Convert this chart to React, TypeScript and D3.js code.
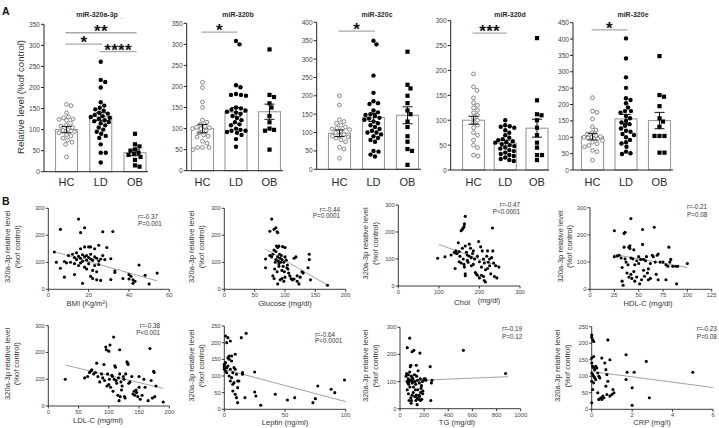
import React from "react";
import * as d3 from "d3";

const FONT = "'Liberation Sans', Arial, Helvetica, sans-serif";

// ---------------- Panel A data ----------------
const groups = ["HC", "LD", "OB"];
const mirTitles = ["miR-320a-3p", "miR-320b", "miR-320c", "miR-320d", "miR-320e"];
const mirYMax = [350, 350, 400, 300, 450];

const a320a_HC = [160, 157, 140, 130, 128, 125, 124, 122, 115, 110, 108, 105, 100, 98, 95, 92, 88, 85, 80, 75, 70, 65, 35];
const a320a_LD = [261, 218, 213, 200, 165, 157, 152, 148, 145, 140, 138, 135, 132, 130, 128, 125, 122, 120, 118, 115, 110, 105, 100, 95, 90, 85, 80, 65, 45, 45, 22];
const a320a_OB = [90, 65, 60, 53, 50, 45, 42, 40, 35, 28, 15, 12];

const b320_HC = [210, 197, 163, 150, 120, 115, 110, 105, 103, 102, 100, 100, 95, 90, 85, 82, 80, 70, 65, 55, 55, 55, 50];
const b320_LD = [308, 300, 203, 198, 182, 180, 180, 178, 150, 148, 145, 143, 140, 138, 135, 130, 125, 120, 115, 110, 108, 100, 97, 95, 95, 92, 90, 85, 75, 57];
const b320_OB = [288, 180, 175, 160, 150, 130, 115, 100, 97, 95, 50];

const c320_HC = [200, 175, 135, 130, 125, 120, 115, 112, 110, 108, 105, 100, 95, 92, 90, 88, 85, 80, 75, 60, 55, 30];
const c320_LD = [350, 340, 255, 208, 185, 180, 178, 160, 155, 150, 148, 145, 140, 138, 135, 130, 125, 120, 115, 110, 105, 100, 100, 95, 90, 85, 80, 75, 50, 48, 40, 35];
const c320_OB = [320, 230, 220, 200, 180, 160, 150, 130, 115, 90, 75, 55, 50, 12];

const d320_HC = [193, 167, 160, 145, 135, 130, 125, 120, 115, 110, 105, 100, 95, 90, 85, 75, 70, 60, 50, 45, 30, 28];
const d320_LD = [100, 90, 88, 87, 85, 80, 75, 70, 65, 62, 60, 58, 56, 55, 52, 50, 48, 45, 43, 40, 38, 35, 32, 30, 28, 25, 22, 20, 18];
const d320_OB = [265, 140, 112, 110, 100, 85, 70, 55, 45, 30, 30, 20];

const e320_HC = [221, 180, 176, 156, 132, 122, 114, 110, 105, 102, 100, 100, 98, 95, 90, 85, 80, 75, 71, 60, 56, 30];
const e320_LD = [402, 341, 283, 251, 219, 214, 204, 191, 180, 180, 175, 165, 158, 150, 145, 140, 135, 127, 120, 117, 110, 107, 100, 92, 85, 81, 71, 56, 51, 49];
const e320_OB = [348, 229, 224, 195, 158, 148, 132, 104, 104, 104, 53, 53];

const mirMeans = [[100, 131, 45], [100, 139, 140], [98, 141, 147], [100, 54, 84], [102, 156, 151]];
const mirSEM = [[7.5, 9, 7], [10, 11, 18], [9, 11, 23], [8, 6, 18], [10, 14, 25]];

// significance brackets: [from group, to group, level, label]
const sigA320a: [number, number, number, string][] = [[0, 2, 330, "**"], [0, 1, 303, "*"], [1, 2, 285, "****"]];
const sigB320: [number, number, number, string][] = [[0, 1, 329, "*"]];
const sigC320: [number, number, number, string][] = [[0, 1, 376, "*"]];
const sigD320: [number, number, number, string][] = [[0, 1, 275, "***"]];
const sigE320: [number, number, number, string][] = [[0, 1, 428, "*"]];

const mirData = [
  [a320a_HC, a320a_LD, a320a_OB],
  [b320_HC, b320_LD, b320_OB],
  [c320_HC, c320_LD, c320_OB],
  [d320_HC, d320_LD, d320_OB],
  [e320_HC, e320_LD, e320_OB],
];
const mirSig = [sigA320a, sigB320, sigC320, sigD320, sigE320];

// layout (pixels) for each bar panel
const aLayout = [
  { axisX: 44, axisEnd: 148, c0: 66.5, c2: 135, top: 24.3, bottom: 171.7, titleX: 97 },
  { axisX: 186.7, axisEnd: 283, c0: 202.5, c2: 269.5, top: 23.3, bottom: 170.7, titleX: 238 },
  { axisX: 316.7, axisEnd: 421, c0: 339.5, c2: 407.5, top: 22.3, bottom: 169.3, titleX: 377 },
  { axisX: 450.7, axisEnd: 549, c0: 473.5, c2: 537, top: 20.7, bottom: 170, titleX: 510 },
  { axisX: 573, axisEnd: 673, c0: 592.5, c2: 659.5, top: 22.7, bottom: 170, titleX: 633 },
];

// ---------------- Panel B data ----------------
const bmiPts = [[15,260],[6,222],[18,228],[16,210],[27,213],[32,214],[18,157],[20,157],[21,157],[25,163],[29,155],[23,150],[16,150],
  [3,138],[4,100],[6,78],[8,103],[9,98],[10,125],[11,100],[12,130],[13,118],[13,95],[14,135],[14,110],[15,122],[15,88],[16,115],[16,98],[17,128],[17,104],[18,120],[18,82],[19,125],[19,108],[19,75],[20,118],[20,95],[21,112],[21,130],[22,108],[22,70],[23,120],[23,88],[24,115],[24,65],[25,105],[25,92],[26,112],[27,125],[28,110],[31,113],[33,68],[33,62],
  [8,45],[13,55],[17,22],[21,48],[22,40],[24,35],[26,33],[31,36],[37,40],[40,55],[41,48],[42,35],[42,22],[43,30],[45,90],[48,52],[50,20],[54,60],[40,38]];
const bmiFit = [[4, 137], [54, 31]];

const glucosePts = [[78,260],[75,215],[82,222],[85,228],[88,210],[87,213],[68,112],[68,80],[75,125],[78,120],[80,130],[82,145],[84,100],[85,110],[85,140],[86,160],[88,155],[88,120],[89,105],[90,160],[90,95],[91,130],[92,115],[93,100],[94,125],[95,110],[96,158],[97,85],[98,100],[100,155],[100,120],[102,108],[103,80],[105,75],[106,60],[110,40],[112,35],[115,115],[118,120],[120,50],[120,30],[123,20],[128,65],[130,60],[138,80],[140,130],[140,110],[142,35],[80,50],[82,40],[88,20],[92,35],[95,40],[98,30],[100,45],[104,90],[108,50],[170,15],[83,75],[87,65],[90,85],[95,70],[99,65],[115,38],[125,45]];
const glucoseFit = [[68, 148], [170, 16]];

const cholPts = [[97,103],[115,108],[130,115],[138,125],[140,122],[142,130],[145,120],[148,160],[150,128],[152,110],[155,205],[158,210],[160,215],[162,220],[163,230],[165,258],[165,148],[158,140],[160,100],[162,80],[163,70],[165,45],[165,38],[168,125],[170,115],[170,95],[172,88],[175,110],[175,155],[178,140],[180,105],[180,75],[183,120],[185,80],[188,100],[190,50],[192,45],[195,110],[198,165],[200,90],[200,30],[203,145],[205,70],[205,40],[207,130],[210,100],[210,35],[212,85],[212,20],[215,60],[215,15],[218,110],[220,65],[220,130],[222,88],[225,75],[228,45],[230,105],[232,215],[233,130],[235,85],[237,35],[240,75],[243,30],[248,70],[150,90],[155,85],[140,65],[185,130],[195,40],[225,100]];
const cholFit = [[100, 154], [250, 72]];

const hdlPts = [[25,215],[25,120],[28,122],[30,125],[32,115],[33,80],[33,30],[34,15],[35,205],[35,155],[36,112],[36,210],[37,100],[38,60],[39,90],[40,45],[40,155],[41,160],[41,150],[42,260],[42,115],[42,55],[43,40],[44,112],[45,145],[45,65],[46,90],[46,30],[48,105],[48,45],[50,120],[50,95],[51,20],[52,110],[53,35],[54,220],[54,165],[55,110],[55,70],[56,48],[57,105],[58,120],[59,60],[60,75],[60,35],[62,95],[62,40],[64,125],[65,120],[66,228],[67,100],[68,55],[69,125],[70,130],[70,35],[72,100],[75,100],[78,90],[78,35],[80,85],[81,155],[82,100],[83,110],[85,85],[88,85],[89,20],[90,85],[100,95]];
const hdlFit = [[25, 128], [100, 80]];

const ldlPts = [[28,100],[60,105],[65,110],[68,125],[70,130],[72,135],[75,120],[78,125],[80,160],[82,110],[85,90],[88,120],[90,105],[92,155],[93,95],[95,220],[96,210],[97,75],[98,120],[100,205],[100,80],[101,100],[102,228],[103,70],[105,115],[106,110],[107,55],[108,258],[109,100],[110,150],[111,145],[112,95],[113,85],[115,40],[116,105],[117,20],[118,210],[118,120],[119,35],[120,90],[121,60],[122,75],[124,110],[125,100],[126,35],[127,30],[128,120],[130,165],[131,160],[132,155],[133,85],[135,90],[138,110],[140,45],[142,55],[143,40],[145,60],[146,50],[148,35],[150,70],[150,110],[152,25],[155,40],[158,100],[160,70],[165,20],[168,215],[170,95],[172,30],[174,130],[175,125],[176,35],[178,75],[190,15]];
const ldlFit = [[28, 153], [190, 66]];

const leptinPts = [[0,120],[0,135],[0,125],[0,130],[1,220],[1,140],[1,115],[2,125],[2,110],[3,215],[3,155],[3,130],[4,150],[4,100],[5,205],[5,120],[5,85],[6,160],[6,145],[6,95],[7,75],[7,110],[8,125],[8,80],[9,165],[9,45],[9,120],[10,35],[10,105],[11,85],[11,65],[11,20],[12,85],[14,215],[15,110],[15,105],[18,228],[17,35],[25,112],[25,52],[26,40],[30,12],[42,45],[52,28],[58,35],[73,20],[75,32],[77,70],[88,60],[91,50],[99,88],[2,200],[4,160],[7,55]];
const leptinFit = [[0, 120], [100, 23]];

const tgPts = [[50,120],[55,130],[60,225],[60,100],[65,95],[68,110],[70,125],[72,90],[75,105],[78,100],[80,260],[80,135],[82,80],[85,155],[88,105],[90,160],[90,40],[92,20],[95,30],[95,120],[100,115],[100,210],[102,95],[105,100],[108,110],[110,60],[112,80],[115,215],[120,125],[122,45],[125,100],[128,70],[130,90],[132,30],[135,160],[135,50],[138,120],[140,40],[142,15],[145,105],[148,70],[150,140],[155,35],[158,50],[160,95],[162,45],[165,205],[168,110],[170,30],[172,60],[175,75],[178,85],[180,35],[185,100],[188,55],[190,65],[195,105],[200,110],[210,110],[215,105],[250,155],[255,30],[260,95],[265,105],[525,215],[875,130],[60,70],[70,55],[75,30],[100,50]];
const tgFit = [[28, 102], [898, 118]];

const crpPts = [[0,225],[0,218],[0.05,210],[0.1,205],[0.1,160],[0,155],[0,140],[0.05,130],[0.1,125],[0.15,120],[0.2,130],[0.25,125],[0,110],[0.05,105],[0.1,100],[0.15,95],[0.2,90],[0,85],[0.1,80],[0,20],[0.05,60],[0.3,110],[0.35,100],[0.4,95],[0.45,35],[0.5,30],[0.5,155],[0.55,40],[0.6,35],[0.65,140],[0.7,120],[0.7,70],[0.75,105],[0.75,45],[0.8,210],[0.8,85],[0.9,150],[0.9,40],[1.0,45],[1.05,60],[1.1,50],[1.7,165],[1.7,90],[1.75,112],[2.0,65],[2.0,12],[2.1,112],[2.7,145],[2.85,35],[5.0,112],[0.3,50],[0.35,30]];
const crpFit = [[0.05, 114], [6, 66]];

const scatterLabels = ["BMI (Kg/m²)", "Glucose (mg/dl)", "Chol", "HDL-C (mg/dl)", "LDL-C (mg/ml)", "Leptin (ng/ml)", "TG (mg/dl)", "CRP (mg/l)"];
const scatterR = ["r=-0.37", "r=-0.44", "r=-0.47", "r=-0.21", "r=-0.38", "r=-0.64", "r=-0.19", "r=-0.23"];
const scatterP = ["P=0.001", "P=0.0001", "P<0.0001", "P=0.08", "P<0.001", "P<0.0001", "P=0.12", "P=0.08"];
const scatterXTicks = [[0, 20, 40, 60], [0, 50, 100, 150, 200], [0, 100, 200, 300], [0, 25, 50, 75, 100, 125], [0, 50, 100, 150, 200], [0, 50, 100], [0, 200, 400, 600, 800, 1000], [0, 2, 4, 6]];
const scatterYTicks = [[0, 100, 200, 300], [0, 100, 200, 300], [0, 100, 200, 300], [0, 100, 200, 300], [0, 100, 200, 300], [0, 50, 100, 150, 200, 250], [0, 100, 200, 300], [0, 50, 100, 150, 200, 250]];
const scatterPts = [bmiPts, glucosePts, cholPts, hdlPts, ldlPts, leptinPts, tgPts, crpPts];
const scatterFits = [bmiFit, glucoseFit, cholFit, hdlFit, ldlFit, leptinFit, tgFit, crpFit];

// layout for scatter panels (pixels)
const bLayout = [
  { x0: 48.3, x1: 169.3, y0: 289.3, y1: 208.3, lab1: 7, lab2: 17, xl: 87, xly: 303.8, ax: "start", ann: 138, ry: 216.7, py: 223.3 },
  { x0: 224.3, x1: 345.7, y0: 289.3, y1: 208.3, lab1: 191, lab2: 201, xl: 285, xly: 303.8, ax: "end", ann: 340, ry: 209, py: 215.5 },
  { x0: 398.3, x1: 520, y0: 286, y1: 205, lab1: 365, lab2: 375, xl: 462, xly: 302, ax: "end", ann: 520, ry: 204.3, py: 211.7 },
  { x0: 590, x1: 711.7, y0: 289.3, y1: 207.7, lab1: 560, lab2: 569.5, xl: 648, xly: 303.8, ax: "start", ann: 687, ry: 206.7, py: 214 },
  { x0: 48.3, x1: 169.3, y0: 406, y1: 325.7, lab1: 7, lab2: 16.5, xl: 98, xly: 420.5, ax: "end", ann: 160, ry: 325.7, py: 332.3 },
  { x0: 224.3, x1: 345.7, y0: 409.3, y1: 326, lab1: 191, lab2: 201, xl: 285, xly: 422.3, ax: "start", ann: 315, ry: 334, py: 340.7 },
  { x0: 400, x1: 520.7, y0: 408.7, y1: 327.3, lab1: 365, lab2: 375, xl: 457, xly: 422, ax: "start", ann: 502, ry: 328.3, py: 336 },
  { x0: 591.7, x1: 713, y0: 409.3, y1: 326.7, lab1: 557, lab2: 567, xl: 652, xly: 422, ax: "start", ann: 696.7, ry: 328.3, py: 336 },
];

// deterministic column-scatter (beeswarm) layout
function swarmOffsets(py: number[], r: number, maxOff: number): number[] {
  const n = py.length;
  const order = d3.range(n).sort((a, b) => py[a] - py[b]);
  const placed: [number, number][] = [];
  const res = new Array(n).fill(0);
  const d2 = (2 * r + 0.2) ** 2;
  for (const i of order) {
    const y = py[i];
    let chosen = 0;
    let best = -Infinity;
    for (let k = 0; k <= maxOff * 4; k++) {
      const off = (k % 2 === 1 ? 1 : -1) * Math.ceil(k / 2) * 0.5;
      let minD = Infinity;
      for (const [px2, py2] of placed) {
        const d = (px2 - off) ** 2 + (py2 - y) ** 2;
        if (d < minD) minD = d;
      }
      if (minD >= d2) { chosen = off; break; }
      if (minD > best) { best = minD; chosen = off; }
    }
    placed.push([chosen, y]);
    res[i] = chosen;
  }
  return res;
}

const TXT = "#2a2a2a";

function BarPanel({ i }: { i: number }) {
  const L = aLayout[i];
  const y = d3.scaleLinear().domain([0, mirYMax[i]]).range([L.bottom, L.top]);
  const x = d3.scalePoint<string>().domain(groups).range([L.c0, L.c2]);
  const ticks = d3.range(0, mirYMax[i] + 1, 50);
  const bw = 22;
  const r = 2.2;
  return (
    <g>
      <text x={L.titleX} y={14} textAnchor="middle" dominantBaseline="central" fontSize={7} fontWeight="bold" fill={TXT}>{mirTitles[i]}</text>
      {groups.map((g, gi) => (
        <rect key={g} x={x(g)! - bw / 2} y={y(mirMeans[i][gi])} width={bw} height={L.bottom - y(mirMeans[i][gi])} fill="#fff" stroke="#9a9a9a" strokeWidth={1.1} />
      ))}
      {groups.map((g, gi) => {
        const vals = mirData[i][gi];
        const pys = vals.map((v) => y(v));
        const offs = swarmOffsets(pys, r, 10);
        const cx = x(g)!;
        return (
          <g key={g}>
            {vals.map((v, k) =>
              gi === 0 ? (
                <circle key={k} cx={cx + offs[k]} cy={pys[k]} r={r - 0.3} fill="#fff" stroke="#6a6a6a" strokeWidth={0.8} />
              ) : gi === 1 ? (
                <circle key={k} cx={cx + offs[k]} cy={pys[k]} r={r} fill="#000" />
              ) : (
                <rect key={k} x={cx + offs[k] - 2.1} y={pys[k] - 2.1} width={4.2} height={4.2} fill="#000" />
              )
            )}
          </g>
        );
      })}
      {groups.map((g, gi) => {
        const cx = x(g)!;
        const m = mirMeans[i][gi];
        const s = mirSEM[i][gi];
        return (
          <g key={g} stroke="#111" strokeWidth={1}>
            <line x1={cx} x2={cx} y1={y(m + s)} y2={y(m - s)} />
            <line x1={cx - 5} x2={cx + 5} y1={y(m + s)} y2={y(m + s)} />
            <line x1={cx - 5} x2={cx + 5} y1={y(m - s)} y2={y(m - s)} />
          </g>
        );
      })}
      <line x1={L.axisX} x2={L.axisX} y1={L.top} y2={L.bottom} stroke="#222" strokeWidth={1} />
      <line x1={L.axisX} x2={L.axisEnd} y1={L.bottom} y2={L.bottom} stroke="#222" strokeWidth={1} />
      {ticks.map((t) => (
        <g key={t}>
          <line x1={L.axisX - 3} x2={L.axisX} y1={y(t)} y2={y(t)} stroke="#222" strokeWidth={1} />
          <text x={L.axisX - 4} y={y(t)} textAnchor="end" dominantBaseline="central" fontSize={6.6} fill="#444">{t}</text>
        </g>
      ))}
      {groups.map((g) => (
        <text key={g} x={x(g)!} y={182} textAnchor="middle" dominantBaseline="central" fontSize={11} fill={TXT}>{g}</text>
      ))}
      {mirSig[i].map(([a, b, lvl, lab], k) => {
        const xa = x(groups[a])! - 1;
        const xb = x(groups[b])! + 1.5;
        const ly = y(lvl);
        return (
          <g key={k}>
            <line x1={xa} x2={xb} y1={ly} y2={ly} stroke="#a8a8a8" strokeWidth={1.4} />
            <text x={(xa + xb) / 2} y={ly + 4} textAnchor="middle" fontSize={17} fontWeight="bold" fill="#111" letterSpacing={0.3}>{lab}</text>
          </g>
        );
      })}
    </g>
  );
}

function ScatterPanel({ i }: { i: number }) {
  const L = bLayout[i];
  const xt = scatterXTicks[i];
  const yt = scatterYTicks[i];
  const x = d3.scaleLinear().domain([xt[0], xt[xt.length - 1]]).range([L.x0, L.x1]);
  const y = d3.scaleLinear().domain([yt[0], yt[yt.length - 1]]).range([L.y0, L.y1]);
  const fit = scatterFits[i];
  const midY = (L.y0 + L.y1) / 2 - 2;
  const line = d3.line<number[]>().x((d) => x(d[0])).y((d) => y(d[1]));
  return (
    <g>
      <text transform={`translate(${L.lab1},${midY}) rotate(-90)`} textAnchor="middle" dominantBaseline="central" fontSize={7.6} fill="#333">320a-3p relative level</text>
      <text transform={`translate(${L.lab2},${midY}) rotate(-90)`} textAnchor="middle" dominantBaseline="central" fontSize={7.6} fill="#333">(%of control)</text>
      <line x1={L.x0} x2={L.x0} y1={L.y1} y2={L.y0} stroke="#222" strokeWidth={0.9} />
      <line x1={L.x0} x2={L.x1} y1={L.y0} y2={L.y0} stroke="#222" strokeWidth={0.9} />
      {yt.map((t) => (
        <g key={t}>
          <line x1={L.x0 - 2.5} x2={L.x0} y1={y(t)} y2={y(t)} stroke="#222" strokeWidth={0.9} />
          <text x={L.x0 - 3.5} y={y(t)} textAnchor="end" dominantBaseline="central" fontSize={5.8} fill="#444">{t}</text>
        </g>
      ))}
      {xt.map((t) => (
        <g key={t}>
          <line x1={x(t)} x2={x(t)} y1={L.y0} y2={L.y0 + 2.5} stroke="#222" strokeWidth={0.9} />
          <text x={x(t)} y={L.y0 + 6} textAnchor="middle" dominantBaseline="central" fontSize={5.8} fill="#444">{t}</text>
        </g>
      ))}
      {i === 2 ? (
        <>
          <text x={462} y={L.xly} textAnchor="middle" dominantBaseline="central" fontSize={7.8} fill="#333">{scatterLabels[i]}</text>
          <text x={489} y={L.xly - 1.5} textAnchor="middle" dominantBaseline="central" fontSize={7.2} fill="#333">(mg/dl)</text>
        </>
      ) : (
        <text x={L.xl} y={L.xly} textAnchor="middle" dominantBaseline="central" fontSize={7.6} fill="#333">{scatterLabels[i]}</text>
      )}
      <path d={line(fit) || ""} stroke="#8a8a8a" strokeWidth={0.8} fill="none" />
      {scatterPts[i].map((p, k) => (
        <circle key={k} cx={x(p[0])} cy={y(p[1])} r={1.55} fill="#000" />
      ))}
      <text x={L.ann} y={L.ry} textAnchor={L.ax as any} dominantBaseline="central" fontSize={6.3} fill="#333">{scatterR[i]}</text>
      <text x={L.ann} y={L.py} textAnchor={L.ax as any} dominantBaseline="central" fontSize={6.3} fill="#333">{scatterP[i]}</text>
    </g>
  );
}

export default function App() {
  return (
    <svg width={719} height={428} viewBox="0 0 719 428" style={{ position: "absolute", left: 0, top: 0, background: "#fff" }} fontFamily={FONT}>
      <rect x={0} y={0} width={719} height={428} fill="#fff" />
      <text x={2} y={15} fontSize={10.5} fontWeight="bold" fill="#111">A</text>
      <text x={2} y={205} fontSize={10.5} fontWeight="bold" fill="#111">B</text>
      <text transform="translate(20,97) rotate(-90)" textAnchor="middle" dominantBaseline="central" fontSize={9.6} fill="#333">Relative level (%of control)</text>
      <text x={121} y={19} fontSize={7} fill="#333">.</text>
      {mirTitles.map((_, i) => <BarPanel key={i} i={i} />)}
      {scatterLabels.map((_, i) => <ScatterPanel key={i} i={i} />)}
    </svg>
  );
}
